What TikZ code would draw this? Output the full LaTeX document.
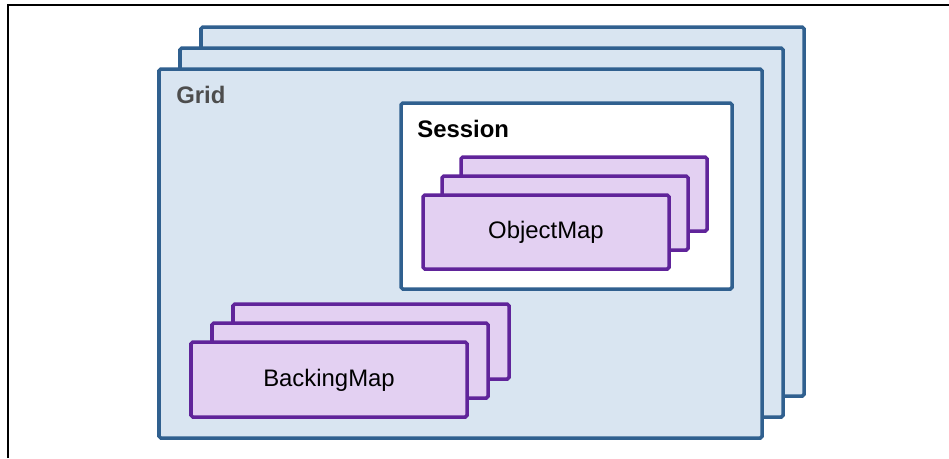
\documentclass[tikz,border=0pt]{standalone}
\usepackage{fontspec}
\setmainfont{Liberation Sans}
\usetikzlibrary{shadows}

\definecolor{gridfill}{HTML}{D9E5F1}
\definecolor{gridline}{HTML}{30608F}
\definecolor{mapfill}{HTML}{E3D0F2}
\definecolor{mapline}{HTML}{60249A}
\definecolor{gridtext}{HTML}{4D4D4D}

\tikzset{
  gridbox/.style={draw=gridline,fill=gridfill,line width=2pt,rounded corners=1pt,
    drop shadow={shadow xshift=0.6pt,shadow yshift=-0.6pt,fill=black!35}},
  sessionbox/.style={gridbox,fill=white},
  mapbox/.style={draw=mapline,fill=mapfill,line width=2pt,rounded corners=1pt,
    drop shadow={shadow xshift=0.6pt,shadow yshift=-0.6pt,fill=black!35}},
  boxtitle/.style={anchor=base west,inner sep=0pt,font=\fontsize{13.6}{16}\selectfont\bfseries},
  maplabel/.style={font=\fontsize{13.6}{16}\selectfont}
}

\begin{document}
\begin{tikzpicture}[x=0.02cm,y=-0.02cm]

\useasboundingbox (0,0) rectangle (949,458);

% frame
\draw[line width=1pt] (8,458) -- (8,5) -- (949,5);

% grids
\foreach \d in {42,21,0}
  \draw[gridbox] (159+\d,69-\d) rectangle (762+\d,438-\d);
\node[boxtitle,text=gridtext] (grid) at (176,103) {Grid};

% session
\draw[sessionbox] (401,103) rectangle (732,289);
\node[boxtitle] (session) at (417,137) {Session};

% object maps
\foreach \d in {38,19,0}
  \draw[mapbox] (423+\d,195-\d) rectangle (669+\d,269-\d);
\node[maplabel] (objectmap) at (546,232) {ObjectMap};

% backing maps
\foreach \dx/\dy in {42/38,21/19,0/0}
  \draw[mapbox] (191+\dx,342-\dy) rectangle (467+\dx,417-\dy);
\node[maplabel] (backingmap) at (329,380) {BackingMap};

\end{tikzpicture}
\end{document}
